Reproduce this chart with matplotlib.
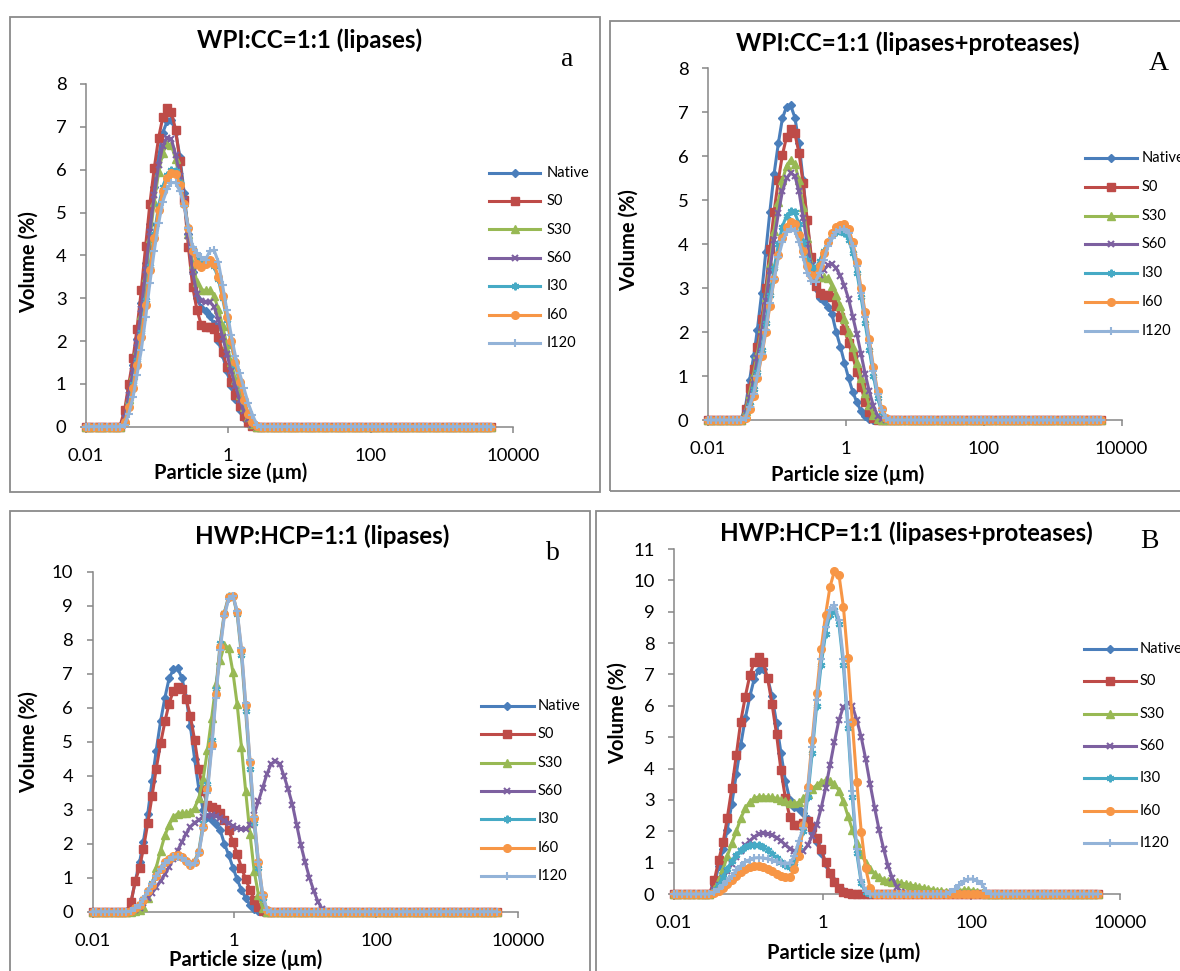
import matplotlib
matplotlib.use("Agg")
import matplotlib.pyplot as plt
from matplotlib.lines import Line2D
from matplotlib.patches import Rectangle
from matplotlib.ticker import NullLocator

plt.rcParams['font.family'] = ['Lato', 'DejaVu Sans']

W, H = 1180, 971

# laser diffraction size classes (um), 0.06 decade steps
size_um = [
    0.010, 0.011, 0.013, 0.015, 0.017, 0.020, 0.023, 0.026, 0.030, 0.035,
    0.040, 0.046, 0.052, 0.060, 0.069, 0.079, 0.091, 0.105, 0.120, 0.138,
    0.158, 0.182, 0.209, 0.240, 0.275, 0.316, 0.363, 0.417, 0.479, 0.550,
    0.631, 0.724, 0.832, 0.955, 1.096, 1.259, 1.445, 1.660, 1.905, 2.188,
    2.512, 2.884, 3.311, 3.802, 4.365, 5.012, 5.754, 6.607, 7.586, 8.710,
    10.000, 11.482, 13.183, 15.136, 17.378, 19.953, 22.909, 26.303, 30.200, 34.674,
    39.811, 45.709, 52.481, 60.256, 69.183, 79.433, 91.201, 104.713, 120.226, 138.038,
    158.489, 181.970, 208.930, 239.883, 275.423, 316.228, 363.078, 416.869, 478.630, 549.541,
    630.957, 724.436, 831.764, 954.993, 1096.478, 1258.925, 1445.440, 1659.587, 1905.461, 2187.762,
    2511.886, 2884.032, 3311.311, 3801.894, 4365.158, 5011.872,
]

FIRST = 9  # first size class with signal (0.035 um); all earlier classes are 0

samples = ['Native', 'S0', 'S30', 'S60', 'I30', 'I60', 'I120']

# volume (%) from the first class with signal onwards
native = [0.3, 0.9, 1.45, 2.05, 2.88, 3.83, 4.74, 5.6, 6.3, 6.86, 7.13, 7.16, 6.88, 6.3, 5.45,
          4.5, 3.6, 3.0, 2.78, 2.7, 2.58, 2.4, 2.0, 1.67, 1.3, 0.95, 0.64, 0.4, 0.2, 0.08, 0.02]

# WPI:CC, lipases
a_s0 = [0.4, 1.0, 1.6, 2.27, 3.2, 4.22, 5.2, 6.03, 6.75, 7.22, 7.43, 7.35, 6.93, 6.2, 5.3, 4.2,
        3.27, 2.72, 2.38, 2.32, 2.32, 2.28, 2.1, 1.75, 1.4, 1.05, 0.75, 0.48, 0.26, 0.1, 0.02]
a_s30 = [0.15, 0.65, 1.2, 1.8, 2.6, 3.5, 4.4, 5.25, 5.95, 6.4, 6.6, 6.58, 6.25, 5.75, 5.25, 4.5,
         3.8, 3.38, 3.2, 3.18, 3.18, 3.05, 2.75, 2.35, 1.92, 1.5, 1.1, 0.75, 0.45, 0.22, 0.07]
a_s60 = [0.2, 0.75, 1.3, 1.95, 2.75, 3.65, 4.55, 5.4, 6.1, 6.55, 6.75, 6.72, 6.35, 5.85, 5.3, 4.45,
         3.6, 3.1, 2.93, 2.9, 2.92, 2.8, 2.5, 2.1, 1.7, 1.3, 0.95, 0.63, 0.37, 0.17, 0.05]
a_i30 = [0.1, 0.5, 1.0, 1.55, 2.2, 2.95, 3.75, 4.5, 5.15, 5.6, 5.88, 6.0, 5.97, 5.7, 5.2, 4.65,
         4.15, 3.88, 3.8, 3.82, 3.85, 3.75, 3.45, 3.0, 2.5, 1.95, 1.45, 1.0, 0.6, 0.3, 0.1, 0.01]
a_i60 = [0.1, 0.45, 0.9, 1.45, 2.1, 2.85, 3.65, 4.4, 5.05, 5.5, 5.8, 5.92, 5.9, 5.65, 5.2, 4.65,
         4.1, 3.8, 3.72, 3.8, 3.88, 3.8, 3.5, 3.05, 2.55, 2.0, 1.5, 1.05, 0.62, 0.3, 0.1, 0.02]
a_i120 = [0.05, 0.3, 0.7, 1.2, 1.8, 2.55, 3.35, 4.1, 4.75, 5.25, 5.55, 5.7, 5.7, 5.5, 5.15, 4.65,
          4.2, 4.05, 3.95, 3.9, 4.1, 4.12, 3.85, 3.3, 2.72, 2.15, 1.65, 1.25, 0.9, 0.55, 0.28, 0.05]

# WPI:CC, lipases + proteases
A_s0 = [0.25, 0.72, 1.17, 1.67, 2.3, 3.0, 3.9, 4.74, 5.46, 6.03, 6.44, 6.63, 6.52, 6.07, 5.38, 4.55,
        3.7, 3.05, 2.9, 2.85, 2.85, 2.8, 2.6, 2.35, 2.05, 1.75, 1.45, 1.1, 0.75, 0.42, 0.18, 0.05]
A_s30 = [0.2, 0.6, 1.05, 1.5, 2.1, 2.8, 3.55, 4.3, 4.95, 5.45, 5.78, 5.92, 5.82, 5.45, 4.85, 4.15,
         3.55, 3.3, 3.25, 3.25, 3.22, 3.05, 2.85, 2.6, 2.3, 2.0, 1.65, 1.3, 0.95, 0.62, 0.33, 0.12, 0.03]
A_s60 = [0.15, 0.5, 0.9, 1.4, 2.0, 2.7, 3.4, 4.1, 4.7, 5.2, 5.5, 5.62, 5.55, 5.2, 4.6, 4.0, 3.5,
         3.25, 3.3, 3.42, 3.52, 3.55, 3.45, 3.28, 3.05, 2.75, 2.35, 1.95, 1.5, 1.05, 0.65, 0.32, 0.1, 0.02]
A_i30 = [0.1, 0.35, 0.7, 1.1, 1.6, 2.2, 2.85, 3.45, 4.0, 4.4, 4.65, 4.75, 4.72, 4.45, 4.05, 3.65,
         3.47, 3.45, 3.62, 3.85, 4.05, 4.2, 4.28, 4.3, 4.25, 4.1, 3.8, 3.35, 2.8, 2.2, 1.6, 1.0, 0.5, 0.18, 0.03]
A_i60 = [0.05, 0.25, 0.55, 0.95, 1.45, 2.0, 2.6, 3.2, 3.75, 4.15, 4.4, 4.5, 4.45, 4.2, 3.85, 3.5,
         3.3, 3.3, 3.5, 3.8, 4.05, 4.25, 4.38, 4.43, 4.45, 4.35, 4.05, 3.6, 3.0, 2.45, 1.85, 1.2, 0.65, 0.25, 0.05]
A_i120 = [0.05, 0.3, 0.6, 1.0, 1.5, 2.05, 2.65, 3.2, 3.7, 4.05, 4.28, 4.35, 4.3, 4.05, 3.7, 3.35,
          3.17, 3.15, 3.35, 3.65, 3.95, 4.15, 4.28, 4.33, 4.35, 4.25, 3.95, 3.5, 2.9, 2.35, 1.75, 1.12, 0.6, 0.22, 0.04]

# HWP:HCP, lipases
b_s0 = [0.3, 0.9, 1.3, 1.85, 2.6, 3.4, 4.2, 4.95, 5.6, 6.12, 6.5, 6.62, 6.55, 6.25, 5.75, 5.05,
        4.2, 3.55, 3.15, 3.07, 3.02, 2.9, 2.7, 2.4, 2.05, 1.7, 1.3, 0.95, 0.65, 0.35, 0.15, 0.03]
b_s30 = [0.0, 0.02, 0.05, 0.15, 0.4, 0.8, 1.3, 1.8, 2.25, 2.55, 2.78, 2.88, 2.9, 2.9, 2.92, 3.05,
         3.35, 3.9, 4.75, 5.7, 6.7, 7.4, 7.85, 7.75, 7.05, 6.1, 4.85, 3.55, 2.3, 1.2, 0.5, 0.1]
b_s60 = [0.0, 0.05, 0.12, 0.25, 0.4, 0.55, 0.72, 0.9, 1.1, 1.32, 1.55, 1.8, 2.05, 2.3, 2.5, 2.62,
         2.7, 2.78, 2.82, 2.84, 2.82, 2.76, 2.68, 2.6, 2.52, 2.45, 2.42, 2.42, 2.55, 2.85, 3.25, 3.65,
         4.05, 4.35, 4.42, 4.35, 4.0, 3.6, 3.15, 2.55, 1.95, 1.45, 1.0, 0.62, 0.3, 0.08]
b_i30 = [0.02, 0.1, 0.22, 0.38, 0.62, 0.85, 1.08, 1.28, 1.45, 1.55, 1.62, 1.64, 1.6, 1.5, 1.4, 1.48,
         1.8, 2.6, 3.75, 5.05, 6.55, 7.9, 8.8, 9.28, 9.3, 8.75, 7.55, 5.9, 4.2, 2.6, 1.3, 0.4, 0.04]
b_i60 = [0.02, 0.1, 0.2, 0.35, 0.6, 0.8, 1.05, 1.27, 1.45, 1.56, 1.63, 1.66, 1.62, 1.5, 1.38, 1.45,
         1.75, 2.5, 3.6, 4.9, 6.4, 7.8, 8.75, 9.25, 9.3, 8.82, 7.7, 6.08, 4.41, 2.75, 1.47, 0.49, 0.05]
b_i120 = [0.02, 0.1, 0.2, 0.36, 0.6, 0.82, 1.05, 1.25, 1.42, 1.53, 1.6, 1.62, 1.58, 1.48, 1.36, 1.42,
          1.72, 2.45, 3.5, 4.8, 6.3, 7.7, 8.7, 9.2, 9.3, 8.85, 7.75, 6.15, 4.45, 2.8, 1.45, 0.5, 0.06]

# HWP:HCP, lipases + proteases
B_s0 = [0.45, 1.08, 1.67, 2.41, 3.37, 4.43, 5.49, 6.29, 6.98, 7.4, 7.57, 7.4, 6.88, 6.05, 5.09, 3.95,
        3.05, 2.45, 2.2, 2.2, 2.25, 2.32, 2.15, 1.77, 1.42, 1.03, 0.66, 0.39, 0.18, 0.07, 0.02]
B_s30 = [0.15, 0.45, 0.8, 1.2, 1.62, 2.0, 2.41, 2.73, 2.94, 3.05, 3.1, 3.1, 3.1, 3.08, 3.05, 3.0,
         2.95, 2.9, 2.89, 2.92, 3.05, 3.2, 3.35, 3.47, 3.57, 3.62, 3.6, 3.5, 3.3, 2.95, 2.5, 2.05,
         1.62, 1.28, 1.0, 0.8, 0.64, 0.53, 0.46, 0.42, 0.39, 0.37, 0.35, 0.32, 0.29, 0.26, 0.23, 0.2,
         0.17, 0.14, 0.11, 0.09, 0.07, 0.07, 0.09, 0.11, 0.13, 0.13, 0.11, 0.07, 0.03, 0.01]
B_s60 = [0.12, 0.3, 0.5, 0.72, 0.95, 1.18, 1.38, 1.56, 1.7, 1.82, 1.9, 1.93, 1.92, 1.88, 1.8, 1.7,
         1.57, 1.45, 1.38, 1.35, 1.38, 1.55, 1.85, 2.2, 2.73, 3.37, 4.11, 4.86, 5.55, 5.97, 6.08, 6.0,
         5.55, 5.0, 4.3, 3.5, 2.75, 2.05, 1.45, 0.9, 0.5, 0.22, 0.06]
B_i30 = [0.1, 0.3, 0.55, 0.8, 1.05, 1.25, 1.4, 1.5, 1.55, 1.57, 1.55, 1.5, 1.4, 1.28, 1.15, 1.02,
         0.92, 0.87, 1.0, 1.5, 2.0, 3.1, 4.5, 6.0, 7.3, 8.3, 8.9, 9.05, 8.6, 7.3, 5.3, 3.1, 1.3, 0.35, 0.05]
B_i60 = [0.03, 0.1, 0.2, 0.32, 0.45, 0.58, 0.7, 0.8, 0.86, 0.89, 0.88, 0.85, 0.8, 0.72, 0.63, 0.56,
         0.53, 0.55, 0.8, 1.2, 2.2, 3.4, 4.9, 6.4, 7.8, 8.9, 9.8, 10.3, 10.17, 9.16, 7.51, 5.49, 3.58,
         1.99, 0.82, 0.18]
B_i120 = [0.05, 0.15, 0.28, 0.42, 0.58, 0.75, 0.9, 1.02, 1.1, 1.15, 1.16, 1.15, 1.12, 1.08, 1.03, 0.99,
          0.97, 1.0, 1.2, 1.7, 2.1, 3.3, 4.7, 6.2, 7.5, 8.5, 9.05, 9.2, 8.75, 7.5, 5.5, 3.3, 1.45, 0.45,
          0.08, 0.0, 0.0, 0.0, 0.0, 0.0, 0.0, 0.0, 0.0, 0.0, 0.0, 0.0, 0.0, 0.0, 0.0, 0.0, 0.0, 0.0,
          0.0, 0.05, 0.15, 0.28, 0.4, 0.47, 0.48, 0.43, 0.32, 0.1]

styles = {
    'Native': dict(color='#4a7ebb', marker='D', ms=4.0, mew=1.0),
    'S0':     dict(color='#be4b48', marker='s', ms=5.5, mew=1.0),
    'S30':    dict(color='#98b954', marker='^', ms=5.5, mew=1.0),
    'S60':    dict(color='#7d60a0', marker='x', ms=4.5, mew=1.5),
    'I30':    dict(color='#46aac5', marker=(6, 2, 0), ms=5.5, mew=1.5),
    'I60':    dict(color='#f79646', marker='o', ms=5.5, mew=1.0),
    'I120':   dict(color='#93b3d8', marker='+', ms=5.5, mew=1.5),
}

panels = [
    dict(title='WPI:CC=1:1 (lipases)', letter='a',
         data=[native, a_s0, a_s30, a_s60, a_i30, a_i60, a_i120],
         axes=(86, 84, 512.8, 426.7), ymax=8, border=(9.6, 17.3, 600, 491.7),
         title_xy=(310, 40), letter_xy=(567, 60), ylab_xy=(28.7, 262), xlab_xy=(231, 473),
         legend=(489, 540, 546.5, 172.7, 28.4)),
    dict(title='WPI:CC=1:1 (lipases+proteases)', letter='A',
         data=[native, A_s0, A_s30, A_s60, A_i30, A_i60, A_i120],
         axes=(708, 68.3, 1121.6, 420), ymax=8, border=(610.4, 20.7, 1190, 490.7),
         title_xy=(907.5, 43), letter_xy=(1158.6, 63), ylab_xy=(629, 240), xlab_xy=(848, 475),
         legend=(1085, 1137, 1142, 158, 28.8)),
    dict(title='HWP:HCP=1:1 (lipases)', letter='b',
         data=[native, b_s0, b_s30, b_s60, b_i30, b_i60, b_i120],
         axes=(92.6, 571.7, 517.8, 911.7), ymax=10, border=(9.6, 511, 590, 980),
         title_xy=(322, 536.7), letter_xy=(553, 553), ylab_xy=(28.7, 741.7), xlab_xy=(246, 960),
         legend=(480.7, 533.9, 537.7, 705.7, 28.4)),
    dict(title='HWP:HCP=1:1 (lipases+proteases)', letter='B',
         data=[native, B_s0, B_s30, B_s60, B_i30, B_i60, B_i120],
         axes=(674, 549, 1119.8, 894), ymax=11, border=(596, 511, 1190, 980),
         title_xy=(906, 533), letter_xy=(1149, 541.7), ylab_xy=(617.8, 713), xlab_xy=(844, 953),
         legend=(1083.5, 1135.7, 1140, 649, 32.3)),
]

AXIS_GREY = '#868686'


def fx(x):
    return x / W


def fy(y):
    return 1 - y / H


def padded(values):
    out = [0.0] * len(size_um)
    out[FIRST:FIRST + len(values)] = values
    return out


fig = plt.figure(figsize=(W / 100, H / 100), dpi=100)

for p in panels:
    # chart-area frame
    bx0, by0, bx1, by1 = p['border']
    fig.add_artist(Rectangle((fx(bx0), fy(by1)), fx(bx1 - bx0), (by1 - by0) / H,
                             transform=fig.transFigure, fill=False,
                             edgecolor='#8a8a8a', linewidth=1.3))

    x0, y0, x1, y1 = p['axes']
    ax = fig.add_axes([fx(x0), fy(y1), fx(x1 - x0), (y1 - y0) / H])
    for name, vals in zip(samples, p['data']):
        st = styles[name]
        ax.plot(size_um, padded(vals), color=st['color'], lw=2.2,
                marker=st['marker'], ms=st['ms'], mew=st['mew'],
                mfc=st['color'], mec=st['color'], clip_on=False, zorder=3)

    ax.set_xscale('log')
    ax.set_xlim(0.01, 10000)
    ax.set_xticks([0.01, 1, 100, 10000])
    ax.set_xticklabels(['0.01', '1', '100', '10000'])
    ax.xaxis.set_minor_locator(NullLocator())
    ax.set_ylim(0, p['ymax'])
    ax.set_yticks(range(0, p['ymax'] + 1))
    ax.set_facecolor('none')
    for side in ('top', 'right'):
        ax.spines[side].set_visible(False)
    for side in ('left', 'bottom'):
        ax.spines[side].set_color(AXIS_GREY)
        ax.spines[side].set_linewidth(1.1)
    ax.tick_params(axis='both', colors=AXIS_GREY, labelcolor='black',
                   labelsize=13.3, length=4, width=1.1)
    ax.tick_params(axis='y', pad=10)
    ax.tick_params(axis='x', pad=11)

    fig.text(fx(p['title_xy'][0]), fy(p['title_xy'][1]), p['title'],
             ha='center', va='center', fontsize=17.4, fontweight='bold')
    fig.text(fx(p['letter_xy'][0]), fy(p['letter_xy'][1]), p['letter'],
             ha='center', va='center', fontsize=20, family='Liberation Serif')
    fig.text(fx(p['ylab_xy'][0]), fy(p['ylab_xy'][1]), 'Volume (%)', rotation=90,
             ha='center', va='center', fontsize=14.5, fontweight='bold')
    fig.text(fx(p['xlab_xy'][0]), fy(p['xlab_xy'][1]), 'Particle size (µm)',
             ha='center', va='center', fontsize=14.5, fontweight='bold')

    # legend: short line with the series marker in the middle
    lx0, lx1, tx, ly, dy = p['legend']
    for k, name in enumerate(samples):
        st = styles[name]
        yk = fy(ly + k * dy)
        fig.add_artist(Line2D([fx(lx0), fx(lx1)], [yk, yk], transform=fig.transFigure,
                              color=st['color'], lw=2.2))
        fig.add_artist(Line2D([fx((lx0 + lx1) / 2)], [yk], transform=fig.transFigure,
                              color=st['color'], marker=st['marker'], ms=st['ms'],
                              mew=st['mew'], mfc=st['color'], mec=st['color']))
        fig.text(fx(tx), yk, name, ha='left', va='center', fontsize=10.5)

fig.savefig('out.png', dpi=100)
